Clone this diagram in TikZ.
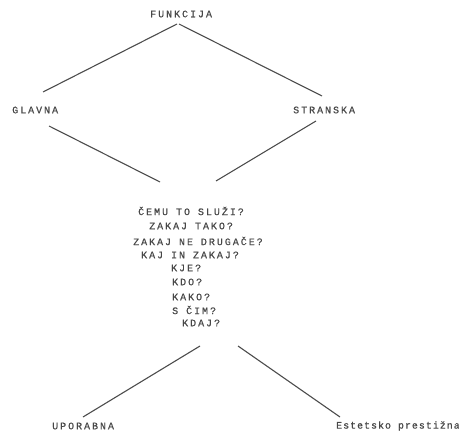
\documentclass[tikz,border=0pt]{standalone}
\usepackage{fontspec}
\setmonofont[LetterSpace=20,FakeBold=0.6]{Liberation Mono}
\newfontfamily\tightmono[LetterSpace=10,FakeBold=0.6]{Liberation Mono}
\begin{document}
\begin{tikzpicture}[x=1bp,y=-1bp,
  lbl/.style={font=\ttfamily\fontsize{10}{12}\selectfont, text=black!72, inner sep=0pt, anchor=west},
  conn/.style={draw=black!70, line width=1.1bp}]
\useasboundingbox (0,0) rectangle (459,434);
\node[lbl] (funk) at (150,14) {FUNKCIJA};
\node[lbl] (glav) at (12,110) {GLAVNA};
\node[lbl] (stra) at (293,110) {STRANSKA};
\node[lbl] (q1) at (138,211) {ČEMU TO SLUŽI?};
\node[lbl] (q2) at (149,226) {ZAKAJ TAKO?};
\node[lbl] (q3) at (133,241) {ZAKAJ NE DRUGAČE?};
\node[lbl] (q4) at (141,255) {KAJ IN ZAKAJ?};
\node[lbl] (q5) at (171,268) {KJE?};
\node[lbl] (q6) at (172,282) {KDO?};
\node[lbl] (q7) at (172,297) {KAKO?};
\node[lbl] (q8) at (172,310) {S ČIM?};
\node[lbl] (q9) at (182,323) {KDAJ?};
\node[lbl] (upor) at (52,426) {UPORABNA};
\node[lbl, font=\tightmono\fontsize{10}{12}\selectfont] (este) at (336,426) {Estetsko prestižna};
% connector ends
\coordinate (fA) at (177,24);
\coordinate (fB) at (179,24);
\coordinate (gT) at (43,92);
\coordinate (sT) at (322,96);
\coordinate (gB) at (49,126);
\coordinate (sB) at (316,121);
\coordinate (qL) at (160,182);
\coordinate (qR) at (216,181);
\coordinate (kL) at (200,346);
\coordinate (kR) at (238,346);
\coordinate (uT) at (83,417);
\coordinate (eT) at (340,417);
\draw[conn] (fA) -- (gT);
\draw[conn] (fB) -- (sT);
\draw[conn] (gB) -- (qL);
\draw[conn] (sB) -- (qR);
\draw[conn] (kL) -- (uT);
\draw[conn] (kR) -- (eT);
\end{tikzpicture}
\end{document}
